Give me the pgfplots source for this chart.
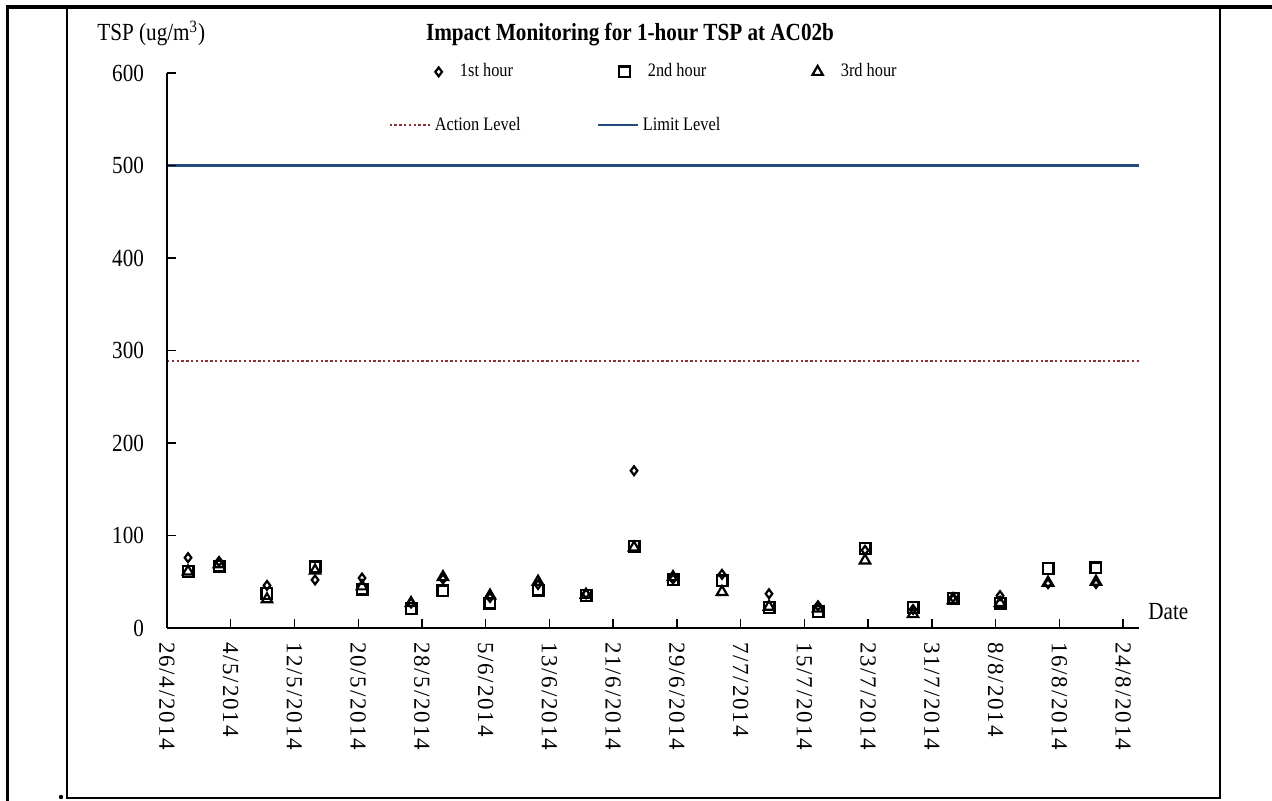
\documentclass[border=0pt]{standalone}
\usepackage{pgfplots}
\usepackage{pgfplotstable}
\pgfplotsset{compat=1.18}
\usepackage{fontspec}
\setmainfont{Liberation Serif}[FakeStretch=0.86]
\newfontfamily\tickfont{Liberation Serif}[LetterSpace=8]
\definecolor{actioncol}{RGB}{140,50,55}
\definecolor{limitcol}{RGB}{35,75,125}

\pgfplotstableread{
x h1 h2 h3
2.64 76 61 61
6.53 72 67 69
12.55 46 37 31
18.58 52 66 62
24.48 54 42 45
30.63 27 21 27
34.64 53 40 55
40.54 33 27 35
46.57 47 41 50
52.59 37 35 36
58.62 170 88 87
63.51 53 52 55
69.66 58 51 39
75.56 37 22 23
81.71 24 18 21
87.61 84 86 73
93.64 20 22 15
98.66 33 32 30
104.56 35 27 27
110.58 48 64 49
116.6 48 65 50
}\tspdata

\begin{document}
\begin{tikzpicture}
\path[use as bounding box] (0,0) rectangle (636pt,400.5pt);
\fill[white] (0,0) rectangle (636pt,400.5pt);
% frame of the table cell
\draw[line width=1.3pt] (3.75pt,0pt) -- (3.75pt,397pt);
\draw[line width=1.6pt] (3.1pt,397pt) -- (636pt,397pt);
\draw[line width=0.6pt] (33.5pt,397pt) -- (33.5pt,1.5pt) -- (610pt,1.5pt);
\draw[line width=0.9pt] (610pt,1.2pt) -- (610pt,397pt);
\fill (30.5pt,2pt) circle (1.1pt);

% level lines
\begin{axis}[
  at={(83.5pt,86.5pt)}, anchor=south west, scale only axis,
  width=486pt, height=277.5pt,
  xmin=0, xmax=122, ymin=0, ymax=600,
  hide axis, clip=false,
  legend columns=2,
  legend cell align=left,
  legend image code/.code={\draw[#1] plot coordinates {(0pt,0pt) (20pt,0pt)};},
  legend style={at={(0.2274,0.906)}, anchor=west, draw=none, fill=none, inner sep=0pt,
    font=\fontsize{9.5}{11}\selectfont, nodes={inner sep=1pt},
    /tikz/every odd column/.append style={column sep=1pt},
    /tikz/every even column/.append style={column sep=37pt}},
]
\addplot[actioncol, line width=1.2pt, dash pattern=on 1.2pt off 1.2pt] coordinates {(0,288.5) (122,288.5)};
\addlegendentry{Action Level}
\addplot[limitcol, line width=1.1pt] coordinates {(0,500) (122,500)};
\addlegendentry{Limit Level}
\end{axis}

% measurements
\begin{axis}[
  at={(83.5pt,86.5pt)}, anchor=south west, scale only axis,
  width=486pt, height=277.5pt,
  xmin=0, xmax=122, ymin=0, ymax=600,
  axis x line=bottom, axis y line=left,
  axis line style={-, line width=0.7pt, black},
  tick align=inside, major tick length=4.5pt,
  tick style={line width=0.7pt, black},
  xtick={0,8,...,120},
  xticklabels={26/4/2014,4/5/2014,12/5/2014,20/5/2014,28/5/2014,5/6/2014,13/6/2014,21/6/2014,29/6/2014,7/7/2014,15/7/2014,23/7/2014,31/7/2014,8/8/2014,16/8/2014,24/8/2014},
  xticklabel style={rotate=-90, anchor=west, font=\tickfont\fontsize{11.5}{13}\selectfont},
  xticklabel shift=3.5pt,
  ytick={0,100,...,600},
  yticklabel style={font=\fontsize{12.3}{14}\selectfont},
  yticklabel shift=8pt,
  /pgf/number format/assume math mode=true,
  clip=false,
  legend columns=3,
  legend cell align=left,
  legend image code/.code={\draw[#1] plot coordinates {(0pt,0pt)};},
  legend style={at={(0.2757,1.002)}, anchor=west, draw=none, fill=none, inner sep=0pt,
    font=\fontsize{9.5}{11}\selectfont, nodes={inner sep=1pt},
    /tikz/every odd column/.append style={column sep=8pt},
    /tikz/every even column/.append style={column sep=52pt}},
]
\addplot[only marks, mark=diamond, mark size=2.2pt, mark options={line width=1.1pt, draw=black, fill=none}] table[x=x,y=h1] {\tspdata};
\addlegendentry{1st hour}
\addplot[only marks, mark=square, mark size=2.7pt, mark options={line width=1.1pt, draw=black, fill=none}] table[x=x,y=h2] {\tspdata};
\addlegendentry{2nd hour}
\addplot[only marks, mark=triangle, mark size=3pt, mark options={line width=1.1pt, draw=black, fill=none}] table[x=x,y=h3] {\tspdata};
\addlegendentry{3rd hour}
\end{axis}

\node[anchor=base west, font=\fontsize{12.3}{14}\selectfont, inner sep=0pt] at (48.5pt,380pt) {TSP (ug/m\textsuperscript{3})};
\node[anchor=base, font=\bfseries\fontsize{12.3}{14}\selectfont, inner sep=0pt] at (315pt,380pt) {Impact Monitoring for 1-hour TSP at AC02b};
\node[anchor=base west, font=\fontsize{12.3}{14}\selectfont, inner sep=0pt] at (574pt,90.5pt) {Date};
\end{tikzpicture}
\end{document}
